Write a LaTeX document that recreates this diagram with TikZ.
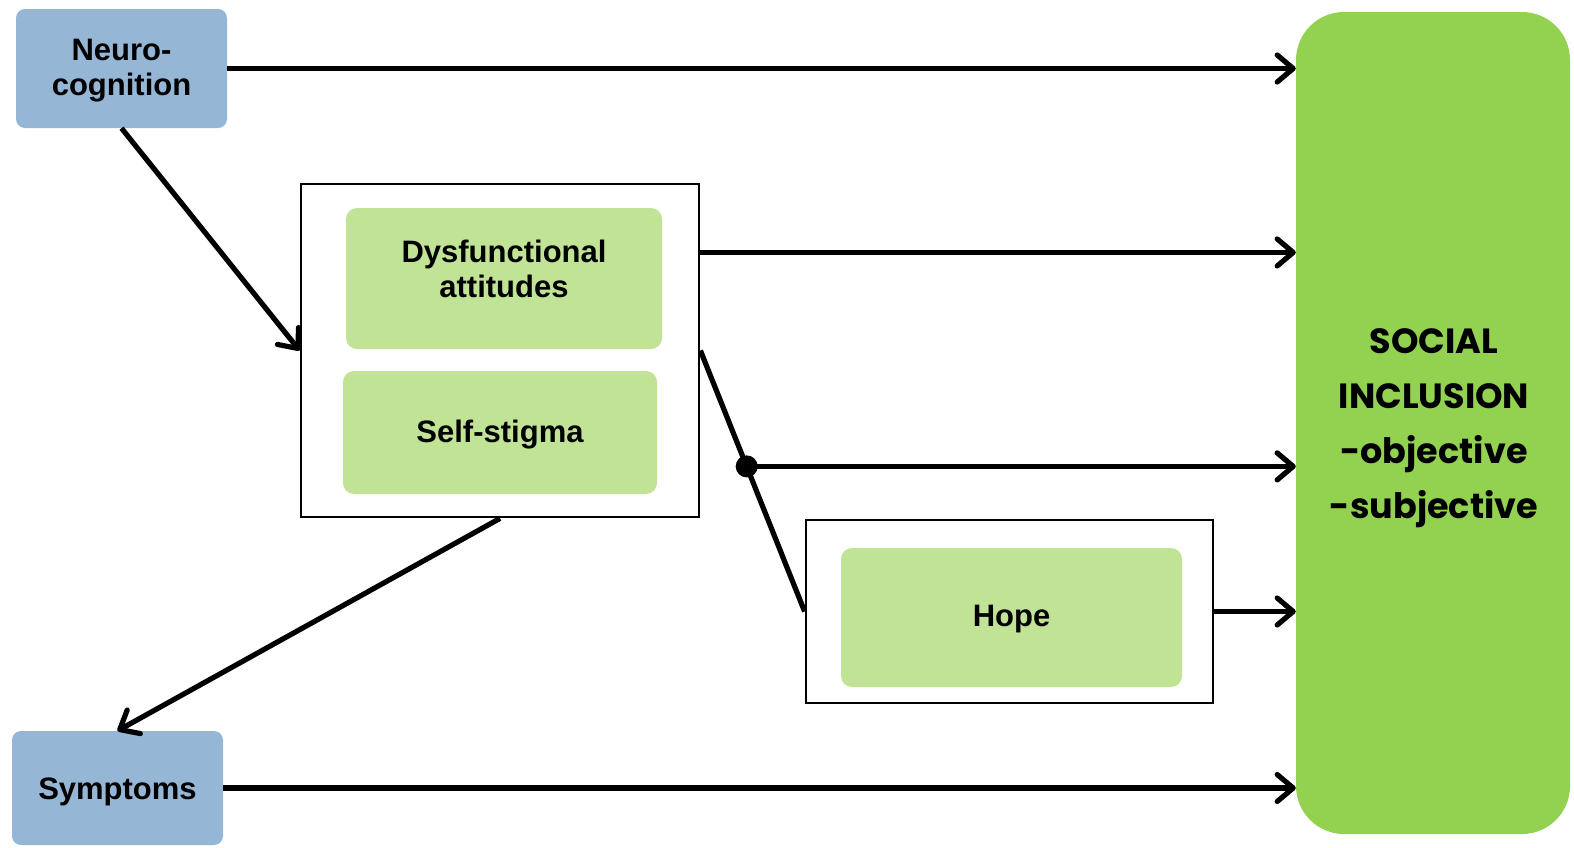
\documentclass[tikz,border=0pt]{standalone}
\usepackage{fontspec}
\setmainfont{Liberation Sans}
\newfontfamily\geofont{Poppins}
\usetikzlibrary{arrows.meta,calc}
\definecolor{blueish}{HTML}{95B6D5}
\definecolor{palegreen}{HTML}{C0E396}
\definecolor{leafgreen}{HTML}{93D250}
\tikzset{
  factor/.style={fill=blueish, rounded corners=9pt, inner sep=0pt},
  frame/.style={draw=black, line width=2.8pt, inner sep=0pt},
  inner/.style={fill=palegreen, rounded corners=11pt, inner sep=0pt},
  outcome/.style={fill=leafgreen, rounded corners=48pt, inner sep=0pt},
  lbl/.style={align=center, inner sep=0pt, font=\fontsize{31}{35}\selectfont\bfseries},
  link/.style={line width=5.2pt, -{Straight Barb[length=16pt,width=27pt,line cap=round,line join=round]}},
  plain/.style={line width=5.2pt},
}
\begin{document}
\begin{tikzpicture}[x=1pt,y=-1pt]
\useasboundingbox (0,0) rectangle (1574,847);
% outcome block on the right
\node[outcome, minimum width=274pt, minimum height=822pt] (social) at (1433,423) {};
\node[align=center, font=\geofont\fontsize{35}{55}\selectfont\bfseries] (socialtext) at (1434,428)
  {SOCIAL\\INCLUSION\\-objective\\-subjective};
% predictors
\node[factor, minimum width=211pt, minimum height=119pt] (neuro) at (121.5,68.5) {};
\node[lbl] (neurotext) at (121.5,71) {Neuro-\\cognition};
\node[factor, minimum width=211pt, minimum height=114pt] (symp) at (117.5,788) {};
\node[lbl] (symptext) at (117.5,792) {Symptoms};
% mediators
\node[frame, minimum width=398pt, minimum height=333pt] (box1) at (500,350.5) {};
\node[inner, minimum width=316pt, minimum height=141pt] (dys) at (504,278.5) {};
\node[lbl] (dystext) at (504,269) {Dysfunctional\\attitudes};
\node[inner, minimum width=314pt, minimum height=123pt] (self) at (500,432.5) {};
\node[lbl] (selftext) at (500,435) {Self-stigma};
\node[frame, minimum width=407pt, minimum height=183pt] (hopebox) at (1009.5,611.5) {};
\node[inner, minimum width=341pt, minimum height=139pt] (hope) at (1011.5,617.5) {};
\node[lbl] (hopetext) at (1011.5,619) {Hope};
% junction on the moderator line
\coordinate (mid) at ($(box1.east)!0.444!(hopebox.west)$);
\coordinate (b1out) at ($(box1.north east)!0.208!(box1.south east)$);
% connectors
\draw[link] (neuro.east) -- (neuro.east -| social.west);
\draw[link] (b1out) -- (b1out -| social.west);
\draw[link] (mid) -- (mid -| social.west);
\draw[link] (hopebox.east) -- (hopebox.east -| social.west);
\draw[link] (symp.east) -- (symp.east -| social.west);
\draw[link] (neuro.south) -- (box1.west);
\draw[link] (box1.south) -- (symp.north);
\draw[plain] (box1.east) -- (hopebox.west);
\fill (mid) circle (11pt);
\end{tikzpicture}
\end{document}
